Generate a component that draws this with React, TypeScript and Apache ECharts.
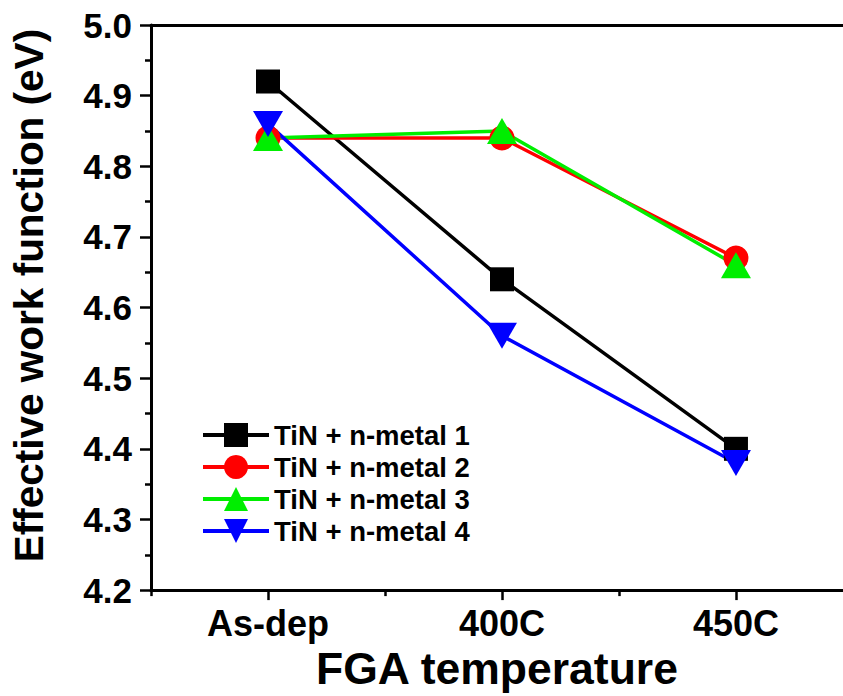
import React, { useEffect, useRef } from "react";
import * as echarts from "echarts";

const categories = ["As-dep", "400C", "450C"];
const seriesNames = ["TiN + n-metal 1", "TiN + n-metal 2", "TiN + n-metal 3", "TiN + n-metal 4"];
const metal1 = [4.92, 4.64, 4.40];
const metal2 = [4.84, 4.84, 4.67];
const metal3 = [4.84, 4.85, 4.66];
const metal4 = [4.86, 4.56, 4.38];
const yTicks = [4.2, 4.3, 4.4, 4.5, 4.6, 4.7, 4.8, 4.9, 5.0];

const FONT = "'Liberation Sans', Arial, Helvetica, sans-serif";

export default function App() {
  const ref = useRef<HTMLDivElement>(null);
  useEffect(() => {
    if (!ref.current) return;
    const chart = echarts.init(ref.current, undefined, { renderer: "svg" });
    const toPts = (arr: number[]) => arr.map((v, i) => [i + 1, v]);
    const colors = ["#000000", "#ff0000", "#00ee00", "#0000ff"];
    const symbols = ["rect", "circle", "triangle", "triangle"];
    const sizes: any[] = [24, 25, [30, 26], [30, 26]];
    const rotates = [0, 0, 0, 180];
    const datas = [metal1, metal2, metal3, metal4];
    const xMin = 0.5;
    const xMax = 0.5 + 695 / 235;
    const option: any = {
      animation: false,
      backgroundColor: "#ffffff",
      grid: { left: 148, top: 25, right: 0, bottom: 103, containLabel: false },
      legend: {
        orient: "vertical",
        left: 201,
        top: 421,
        padding: 0,
        itemWidth: 66,
        itemHeight: 30,
        itemGap: 4,
        lineStyle: { width: 4 },
        textStyle: { fontFamily: FONT, fontWeight: "bold", fontSize: 27.5, color: "#000" },
        data: seriesNames,
      },
      xAxis: [
        {
          type: "value",
          min: xMin,
          max: xMax,
          interval: 0.5,
          position: "bottom",
          axisLine: { show: true, lineStyle: { color: "#000", width: 3 } },
          axisTick: { show: true, customValues: [1, 2, 3], length: 10, lineStyle: { color: "#000", width: 2.5 } },
          axisLabel: {
            customValues: [1, 2, 3],
            formatter: (v: number) => categories[Math.round(v) - 1] ?? "",
            fontFamily: FONT,
            fontWeight: "bold",
            fontSize: 36,
            color: "#000",
            margin: 15,
          },
          splitLine: { show: false },
          name: "FGA temperature",
          nameLocation: "middle",
          nameGap: 45,
          nameTextStyle: { fontFamily: FONT, fontWeight: "bold", fontSize: 44.5, color: "#000" },
        },
        {
          type: "value",
          min: xMin,
          max: xMax,
          interval: 0.5,
          position: "bottom",
          axisLine: { show: false },
          axisTick: { show: true, customValues: [0.5, 1.5, 2.5], length: 6, lineStyle: { color: "#000", width: 2.5 } },
          axisLabel: { show: false },
          splitLine: { show: false },
        },
        {
          type: "value",
          min: xMin,
          max: xMax,
          interval: 0.5,
          position: "top",
          axisLine: { show: true, lineStyle: { color: "#000", width: 3 } },
          axisTick: { show: false },
          axisLabel: { show: false },
          splitLine: { show: false },
        },
      ],
      yAxis: {
        type: "value",
        min: yTicks[0],
        max: yTicks[yTicks.length - 1],
        interval: 0.1,
        axisLine: { show: true, lineStyle: { color: "#000", width: 3 } },
        axisTick: { show: true, length: 11, lineStyle: { color: "#000", width: 2.5 } },
        minorTick: { show: true, splitNumber: 2, length: 6, lineStyle: { color: "#000", width: 2.5 } },
        axisLabel: {
          formatter: (v: number) => v.toFixed(1),
          fontFamily: FONT,
          fontWeight: "bold",
          fontSize: 35,
          color: "#000",
          margin: 19,
        },
        splitLine: { show: false },
        name: "Effective work function (eV)",
        nameLocation: "middle",
        nameGap: 102,
        nameTextStyle: {
          fontFamily: FONT,
          fontWeight: "bold",
          fontSize: 40.5,
          color: "#000",
          padding: [0, 0, 0, 24],
        },
      },
      series: datas.map((d, i) => ({
        name: seriesNames[i],
        type: "line",
        xAxisIndex: 0,
        data: toPts(d),
        symbol: symbols[i],
        symbolSize: sizes[i],
        symbolRotate: rotates[i],
        showAllSymbol: true,
        lineStyle: { color: colors[i], width: 3.5 },
        itemStyle: { color: colors[i] },
        emphasis: { disabled: true },
      })),
    };
    chart.setOption(option);
    return () => chart.dispose();
  }, []);
  return <div ref={ref} style={{ width: 843, height: 696, position: "absolute", left: 0, top: 0 }} />;
}
